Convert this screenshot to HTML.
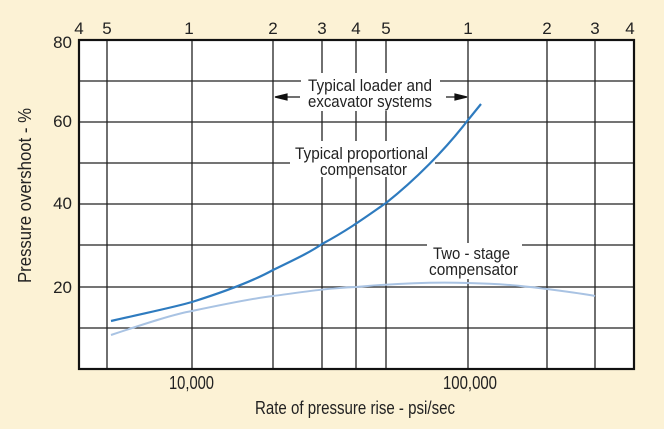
<!DOCTYPE html>
<html><head><meta charset="utf-8"><style>
html,body{margin:0;padding:0;background:#fcf2d5;}
svg{display:block;font-family:"Liberation Sans",sans-serif;}
</style></head><body>
<svg width="664" height="429" viewBox="0 0 664 429" xmlns="http://www.w3.org/2000/svg">
<rect x="0" y="0" width="664" height="429" fill="#fcf2d5"/>
<rect x="79" y="40" width="555" height="329" fill="#fff"/>
<g stroke="#222" stroke-width="1.3">
<line x1="79" y1="81" x2="634" y2="81"/>
<line x1="79" y1="122" x2="634" y2="122"/>
<line x1="79" y1="163" x2="634" y2="163"/>
<line x1="79" y1="204" x2="634" y2="204"/>
<line x1="79" y1="245" x2="634" y2="245"/>
<line x1="79" y1="287" x2="634" y2="287"/>
<line x1="79" y1="328" x2="634" y2="328"/>
<line x1="107" y1="40" x2="107" y2="369"/>
<line x1="192" y1="40" x2="192" y2="369"/>
<line x1="273" y1="40" x2="273" y2="369"/>
<line x1="322" y1="40" x2="322" y2="369"/>
<line x1="356" y1="40" x2="356" y2="369"/>
<line x1="386" y1="40" x2="386" y2="369"/>
<line x1="468" y1="40" x2="468" y2="369"/>
<line x1="547" y1="40" x2="547" y2="369"/>
<line x1="595" y1="40" x2="595" y2="369"/>
</g>
<rect x="79" y="40" width="555" height="329" fill="none" stroke="#111" stroke-width="2.2"/>
<rect x="301" y="73" width="139" height="38" fill="#fff"/>
<rect x="290" y="141" width="145" height="36" fill="#fff"/>
<rect x="427" y="243" width="95" height="36" fill="#fff"/>
<path d="M111,321 C150,312 175,307 192,302 C230,290 255,280 273,270 C300,257 312,251 322,244 C350,229 370,214 386,203 C415,180 445,150 468,120 L481,104" fill="none" stroke="#2e7bbf" stroke-width="2.2"/>
<path d="M111,335 C150,322 175,314 192,311 C230,303 255,298 273,296 C310,291 330,288 356,287 C400,283 440,282 468,283 C510,284 530,287 547,289 C570,292 585,294 595,296" fill="none" stroke="#a9c3e3" stroke-width="2"/>
<g stroke="#111" stroke-width="1.2" fill="#111">
<line x1="285" y1="97" x2="300" y2="97"/><polygon points="275,97 287,94 287,100"/>
<line x1="446" y1="97" x2="456" y2="97"/><polygon points="467,97 455,94 455,100"/>
</g>
<g fill="#222" font-size="17">
<text x="308" y="91" textLength="124" lengthAdjust="spacingAndGlyphs">Typical loader and</text>
<text x="308" y="107" textLength="124" lengthAdjust="spacingAndGlyphs">excavator systems</text>
<text x="295" y="159" textLength="133" lengthAdjust="spacingAndGlyphs">Typical proportional</text>
<text x="320" y="175" textLength="87" lengthAdjust="spacingAndGlyphs">compensator</text>
<text x="433" y="259" textLength="77" lengthAdjust="spacingAndGlyphs">Two - stage</text>
<text x="429" y="275" textLength="89" lengthAdjust="spacingAndGlyphs">compensator</text>
</g>
<g fill="#222" font-size="17" text-anchor="middle">
<text x="79" y="34">4</text><text x="107" y="34">5</text><text x="189" y="34">1</text>
<text x="273" y="34">2</text><text x="322" y="34">3</text><text x="356" y="34">4</text>
<text x="386" y="34">5</text><text x="468" y="34">1</text><text x="547" y="34">2</text>
<text x="595" y="34">3</text><text x="630" y="34">4</text>
</g>
<g fill="#222" font-size="18">
<text x="169" y="389" textLength="45" lengthAdjust="spacingAndGlyphs">10,000</text>
<text x="443" y="389" textLength="54" lengthAdjust="spacingAndGlyphs">100,000</text>
<text x="255" y="414" textLength="200" lengthAdjust="spacingAndGlyphs">Rate of pressure rise - psi/sec</text>
</g>
<g fill="#222" font-size="17" text-anchor="end">
<text x="72" y="48">80</text><text x="72" y="127">60</text>
<text x="72" y="209">40</text><text x="72" y="293">20</text>
</g>
<text transform="translate(31,283) rotate(-90)" fill="#222" font-size="18" textLength="175" lengthAdjust="spacingAndGlyphs">Pressure overshoot - %</text>
</svg>
</body></html>
